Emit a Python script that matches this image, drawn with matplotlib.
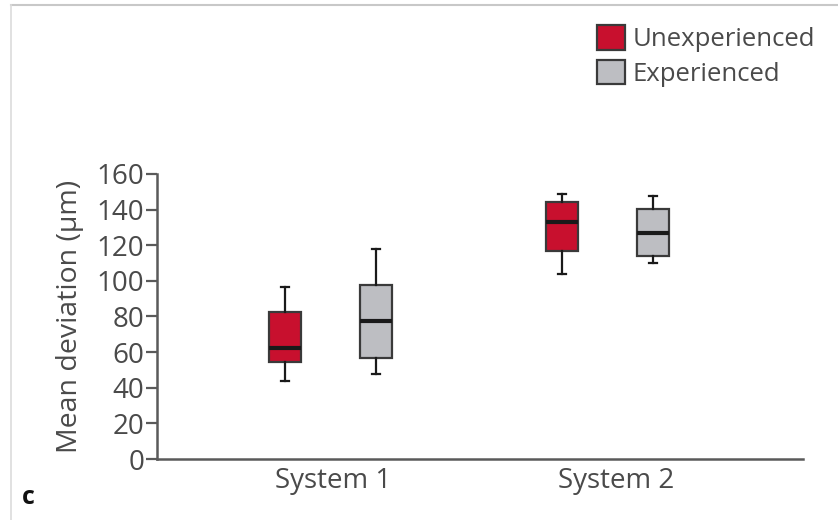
import matplotlib.pyplot as plt
from matplotlib.patches import Patch
from matplotlib.lines import Line2D

plt.rcParams['font.family'] = ['Open Sans', 'DejaVu Sans']

# Box summary values
systems = ['System 1', 'System 2']
series = ['Unexperienced', 'Experienced']
whis_lo = {'Unexperienced': [44, 104], 'Experienced': [48, 110]}
q1 = {'Unexperienced': [54.5, 117], 'Experienced': [56.5, 114]}
median = {'Unexperienced': [62.5, 133], 'Experienced': [77.5, 127]}
q3 = {'Unexperienced': [82.5, 144], 'Experienced': [97.5, 140.5]}
whis_hi = {'Unexperienced': [96.5, 148.5], 'Experienced': [118, 147.5]}
y_ticks = [0, 20, 40, 60, 80, 100, 120, 140, 160]

colors = {'Unexperienced': '#C8102E', 'Experienced': '#BDBEC2'}
edge = '#3a3a3a'
text_col = '#4a4a4a'

fig = plt.figure(figsize=(8.38, 5.2), dpi=100)
ax = fig.add_axes([0.1874, 0.1173, 0.7706, 0.5481])

offsets = {'Unexperienced': -0.164, 'Experienced': 0.164}
for s in series:
    stats = []
    for i in range(len(systems)):
        stats.append({'whislo': whis_lo[s][i], 'q1': q1[s][i], 'med': median[s][i],
                      'q3': q3[s][i], 'whishi': whis_hi[s][i], 'fliers': []})
    pos = [i + 1 + offsets[s] for i in range(len(systems))]
    ax.bxp(stats, positions=pos, widths=0.115, patch_artist=True, showfliers=False,
           boxprops=dict(facecolor=colors[s], edgecolor=edge, linewidth=1.6),
           medianprops=dict(color='#1a1a1a', linewidth=3),
           whiskerprops=dict(color='#1a1a1a', linewidth=1.6),
           capprops=dict(color='#1a1a1a', linewidth=1.6),
           capwidths=0.03, manage_ticks=False)

ax.set_xlim(0.375, 2.703)
ax.set_ylim(0, 160)
ax.set_yticks(y_ticks)
ax.set_xticks([1.01, 2.03])
ax.set_xticklabels(systems)
for sp in ['top', 'right']:
    ax.spines[sp].set_visible(False)
for sp in ['left', 'bottom']:
    ax.spines[sp].set_color('#5a5a5a')
    ax.spines[sp].set_linewidth(1.8)
ax.tick_params(axis='y', direction='out', length=8, width=1.6, color='#5a5a5a',
               labelsize=20, labelcolor=text_col, pad=1)
ax.tick_params(axis='x', length=0, labelsize=20, labelcolor=text_col, pad=6)
ax.set_ylabel('Mean deviation (µm)', fontsize=20.5, color=text_col, labelpad=9)

handles = [Patch(facecolor=colors[s], edgecolor=edge, linewidth=1.6, label=s) for s in series]
fig.legend(handles=handles, loc='upper left', bbox_to_anchor=(0.700, 0.972),
           frameon=False, fontsize=18.5, handlelength=1.1, handleheight=1.1,
           handletextpad=0.3, labelspacing=0.3, labelcolor=text_col, borderaxespad=0)

# thin frame lines at top and left of the panel
fig.add_artist(Line2D([0.013, 1.0], [0.99, 0.99], color='#c8c8c8', linewidth=1.5))
fig.add_artist(Line2D([0.013, 0.013], [0.0, 0.99], color='#dcdcdc', linewidth=1.2))
fig.text(0.026, 0.03, 'c', fontsize=18, fontweight='bold', color='#111111')

fig.savefig('out.png', dpi=100)
